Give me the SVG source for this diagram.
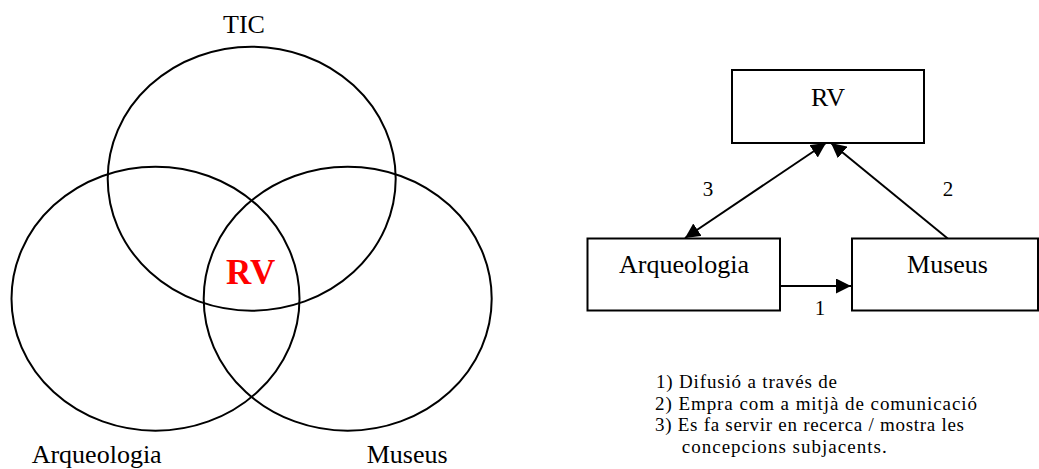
<svg xmlns="http://www.w3.org/2000/svg" width="1039" height="469" viewBox="0 0 1039 469">
  <style>
    text { font-family: "Liberation Serif", "Times New Roman", serif; fill: #000; }
    .big { font-size: 26px; }
    .small { font-size: 21px; }
    .note { font-size: 19px; }
    .venn { fill: none; stroke: #000; stroke-width: 2; }
    .box { fill: #fff; stroke: #000; stroke-width: 2; }
    .link { fill: none; stroke: #000; stroke-width: 2; }
    .core { font-size: 35px; font-weight: bold; fill: #ff0000; }
  </style>
  <defs>
    <marker id="head" markerUnits="userSpaceOnUse" markerWidth="16" markerHeight="16" refX="15" refY="7.5" orient="auto-start-reverse" viewBox="0 0 16 16">
      <path d="M0,0 L15,7.5 L0,15 Z" fill="#000"/>
    </marker>
  </defs>

  <rect width="1039" height="469" fill="#fff"/>

  <!-- Venn diagram: TIC, Arqueologia, Museus -->
  <g id="venn-tic">
    <ellipse class="venn" cx="251.7" cy="178.7" rx="144" ry="132"/>
    <text class="big" x="223" y="33">TIC</text>
  </g>
  <g id="venn-arqueologia">
    <ellipse class="venn" cx="155.5" cy="298.7" rx="144" ry="132"/>
    <text class="big" x="31.7" y="463">Arqueologia</text>
  </g>
  <g id="venn-museus">
    <ellipse class="venn" cx="347.7" cy="298.7" rx="144" ry="132"/>
    <text class="big" x="366.7" y="463">Museus</text>
  </g>
  <g id="venn-rv">
    <text class="core" x="226" y="284">RV</text>
  </g>

  <!-- Relation graph -->
  <g id="connectors">
    <path class="link" d="M780,286 L851,286" marker-end="url(#head)"/>
    <path class="link" d="M685,238 L826,143" marker-start="url(#head)" marker-end="url(#head)"/>
    <path class="link" d="M947.7,238.5 L831,143" marker-end="url(#head)"/>
    <text class="small" x="820" y="315" text-anchor="middle">1</text>
    <text class="small" x="948" y="196" text-anchor="middle">2</text>
    <text class="small" x="708" y="196" text-anchor="middle">3</text>
  </g>
  <g id="node-rv">
    <rect class="box" x="732" y="70" width="192" height="73"/>
    <text class="big" x="828" y="106" text-anchor="middle">RV</text>
  </g>
  <g id="node-arqueologia">
    <rect class="box" x="587.5" y="238.5" width="192.5" height="72"/>
    <text class="big" x="684" y="273" text-anchor="middle">Arqueologia</text>
  </g>
  <g id="node-museus">
    <rect class="box" x="852" y="238.5" width="186" height="72"/>
    <text class="big" x="947.5" y="273" text-anchor="middle">Museus</text>
  </g>

  <!-- Legend -->
  <g id="legend">
    <text class="note" x="656" y="388" textLength="181" lengthAdjust="spacing">1) Difusió a través de</text>
    <text class="note" x="655" y="409.5" textLength="322" lengthAdjust="spacing">2) Empra com a mitjà de comunicació</text>
    <text class="note" x="655" y="431" textLength="309" lengthAdjust="spacing">3) Es fa servir en recerca / mostra les</text>
    <text class="note" x="681.7" y="452.5" textLength="205" lengthAdjust="spacing">concepcions subjacents.</text>
  </g>
</svg>
